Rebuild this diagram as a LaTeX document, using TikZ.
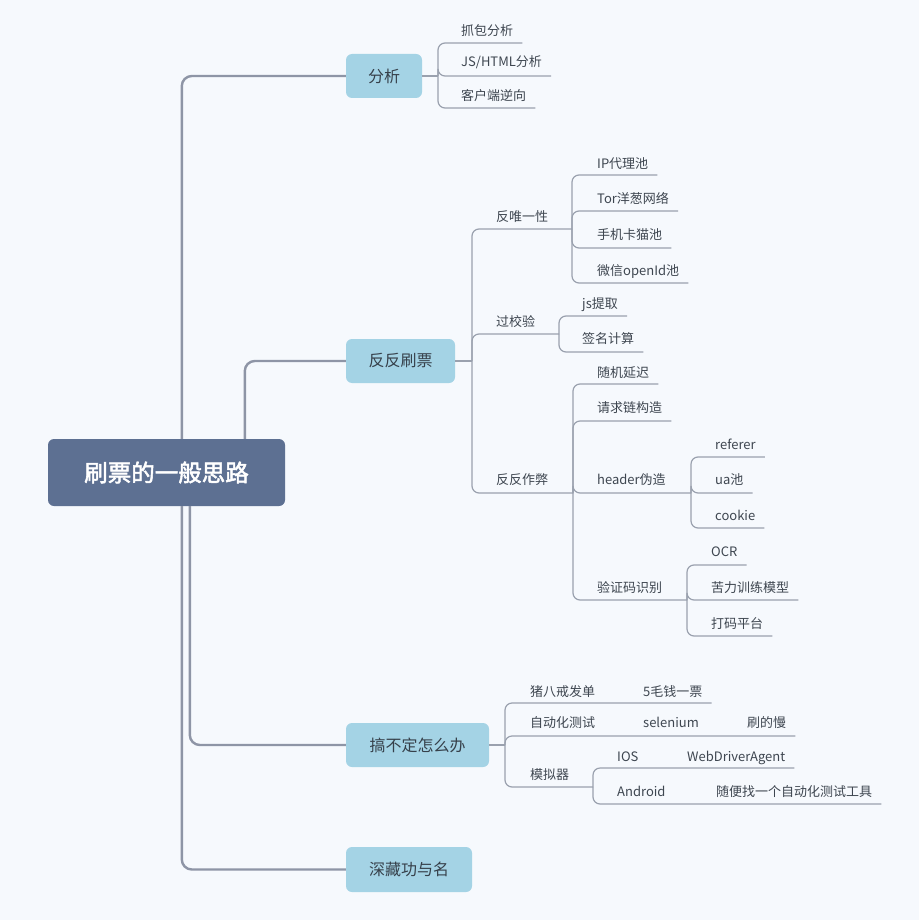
\documentclass[tikz,border=0pt]{standalone}
\usepackage{fontspec}
\setmainfont{Noto Sans CJK SC}
\newfontfamily\rootfont[FakeBold=2.2]{Noto Sans CJK SC}
\usetikzlibrary{calc}
\definecolor{bg}{HTML}{F6F9FD}
\definecolor{rootc}{HTML}{5D7092}
\definecolor{topicc}{HTML}{A4D3E5}
\definecolor{topictext}{HTML}{36404A}
\definecolor{leaftext}{HTML}{3E4650}
\definecolor{linec}{HTML}{8E95A6}
\definecolor{sublinec}{HTML}{9AA1AE}
\begin{document}
\begin{tikzpicture}[x=1pt,y=-1pt,
  rootbox/.style={fill=rootc, rounded corners=6pt, minimum width=237pt, minimum height=67pt, text=white, inner sep=0pt, font=\rootfont\fontsize{23.5}{27}\selectfont},
  topic/.style={fill=topicc, rounded corners=6pt, minimum height=44pt, text=topictext, inner sep=0pt, font=\fontsize{16}{19}\selectfont},
  leaf/.style={anchor=base west, inner sep=0pt, text=leaftext, font=\fontsize{13}{15}\selectfont},
  mainline/.style={draw=linec, line width=2.4pt, rounded corners=10pt},
  subline/.style={draw=sublinec, line width=1.2pt, rounded corners=7pt}]
\fill[bg] (0,0) rectangle (919,920);
\useasboundingbox (0,0) rectangle (919,920);

% root and main topics
\node[rootbox] (root) at (166.5,472.5) {刷票的一般思路};
\node[topic, minimum width=76pt] (fx) at (384,76) {分析};
\node[topic, minimum width=109pt] (ffsp) at (400.5,361) {反反刷票};
\node[topic, minimum width=143pt] (gbd) at (417.5,745) {搞不定怎么办};
\node[topic, minimum width=126pt, minimum height=45pt] (scgym) at (409,869.5) {深藏功与名};

\draw[mainline] ([xshift=134pt]root.north west) |- (fx.west);
\draw[mainline] ([xshift=197pt]root.north west) |- (ffsp.west);
\draw[mainline] ([xshift=142pt]root.south west) |- (gbd.west);
\draw[mainline] ([xshift=134pt]root.south west) |- (scgym.west);

% ---------- 分析
\coordinate (brA) at (438,76);
\draw[subline] (fx.east) -- (brA);
\node[leaf] (a1) at (461,36) {抓包分析};
\node[leaf] (a2) at (461,67) {JS/HTML分析};
\node[leaf] (a3) at (461,101) {客户端逆向};
\draw[subline] ($(a1.base east)+(9,7)$) -| (brA);
\draw[subline] ($(a2.base east)+(9,9)$) -| (brA);
\draw[subline] ($(a3.base east)+(9,7)$) -| (brA);

% ---------- 反反刷票
\coordinate (brB) at (472,361);
\draw[subline] (ffsp.east) -- (brB);
\node[leaf] (b1) at (496,221) {反唯一性};
\node[leaf] (b2) at (496,326) {过校验};
\node[leaf] (b3) at (496,484) {反反作弊};
\coordinate (brB1) at (572,229);
\coordinate (brB2) at (559,334);
\coordinate (brB3) at (573,493);
\draw[subline] (brB1) -| (brB);
\draw[subline] (brB2) -| (brB);
\draw[subline] (brB3) -| (brB);

% 反唯一性
\node[leaf] (c1) at (597,168) {IP代理池};
\node[leaf] (c2) at (597,203) {Tor洋葱网络};
\node[leaf] (c3) at (597,239) {手机卡猫池};
\node[leaf] (c4) at (597,275) {微信openId池};
\draw[subline] ($(c1.base east)+(9,7)$) -| (brB1);
\draw[subline] ($(c2.base east)+(9,8)$) -| (brB1);
\draw[subline] ($(c3.base east)+(9,9)$) -| (brB1);
\draw[subline] ($(c4.base east)+(9,8)$) -| (brB1);

% 过校验
\node[leaf] (c5) at (582,308) {js提取};
\node[leaf] (c6) at (582,343) {签名计算};
\draw[subline] ($(c5.base east)+(9,8)$) -| (brB2);
\draw[subline] ($(c6.base east)+(9,9)$) -| (brB2);

% 反反作弊
\node[leaf] (c7) at (597,377) {随机延迟};
\node[leaf] (c8) at (597,412) {请求链构造};
\node[leaf] (c9) at (597,484) {header伪造};
\node[leaf] (c10) at (597,592) {验证码识别};
\coordinate (brC9) at (691,493);
\coordinate (brC10) at (687,600);
\draw[subline] ($(c7.base east)+(9,7)$) -| (brB3);
\draw[subline] ($(c8.base east)+(9,9)$) -| (brB3);
\draw[subline] (brC9) -| (brB3);
\draw[subline] (brC10) -| (brB3);

% header伪造
\node[leaf] (d1) at (715,449) {referer};
\node[leaf] (d2) at (715,484) {ua池};
\node[leaf] (d3) at (715,520) {cookie};
\draw[subline] ($(d1.base east)+(9,8)$) -| (brC9);
\draw[subline] ($(d2.base east)+(9,9)$) -| (brC9);
\draw[subline] ($(d3.base east)+(9,8)$) -| (brC9);

% 验证码识别
\node[leaf] (d4) at (711,556) {OCR};
\node[leaf] (d5) at (711,592) {苦力训练模型};
\node[leaf] (d6) at (711,628) {打码平台};
\draw[subline] ($(d4.base east)+(9,9)$) -| (brC10);
\draw[subline] ($(d5.base east)+(9,8)$) -| (brC10);
\draw[subline] ($(d6.base east)+(9,8)$) -| (brC10);

% ---------- 搞不定怎么办
\coordinate (brG) at (505,745);
\draw[subline] (gbd.east) -- (brG);
\node[leaf] (e1) at (530,696) {猪八戒发单};
\node[leaf] (e1b) at (643,696) {5毛钱一票};
\node[leaf] (e2) at (530,727) {自动化测试};
\node[leaf] (e2b) at (643,727) {selenium};
\node[leaf] (e2c) at (747,727) {刷的慢};
\node[leaf] (e3) at (530,779) {模拟器};
\coordinate (brG3) at (593,787);
\draw[subline] ($(e1b.base east)+(9,7)$) -| (brG);
\draw[subline] ($(e2c.base east)+(9,9)$) -| (brG);
\draw[subline] (brG3) -| (brG);

\node[leaf] (f1) at (617,761) {IOS};
\node[leaf] (f1b) at (687,761) {WebDriverAgent};
\node[leaf] (f2) at (617,796) {Android};
\node[leaf] (f2b) at (716,796) {随便找一个自动化测试工具};
\draw[subline] ($(f1b.base east)+(9,7)$) -| (brG3);
\draw[subline] ($(f2b.base east)+(9,8)$) -| (brG3);
\end{tikzpicture}
\end{document}
